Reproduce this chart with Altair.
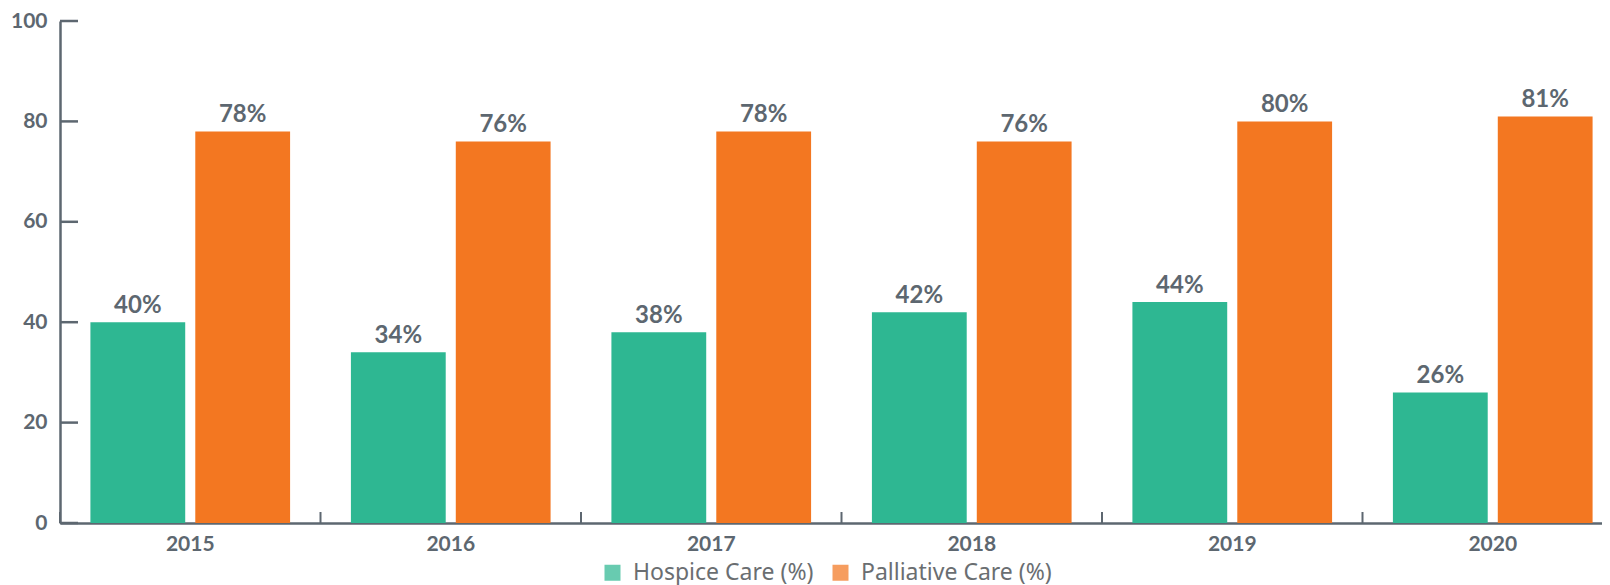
import altair as alt
import pandas as pd

years = ["2015", "2016", "2017", "2018", "2019", "2020"]
series = ["Hospice Care (%)", "Palliative Care (%)"]
hospice = [40, 34, 38, 42, 44, 26]
palliative = [78, 76, 78, 76, 80, 81]
y_ticks = [0, 20, 40, 60, 80, 100]

colors = ["#2eb792", "#f37721"]
ink = "#5d6770"
font = "Lato"

rows = []
for i, yr in enumerate(years):
    rows.append({"year": yr, "series": series[0], "value": hospice[i]})
    rows.append({"year": yr, "series": series[1], "value": palliative[i]})
df = pd.DataFrame(rows)
df["label"] = df["value"].astype(str) + "%"

tick_df = pd.DataFrame({"v": y_ticks})
year_df = pd.DataFrame({"year": years})

x_scale = alt.Scale(domain=years, range=[0, 1563], paddingInner=0, paddingOuter=0)
y_scale = alt.Scale(domain=[0, 100], nice=False)

x_enc = alt.X(
    "year:N",
    scale=x_scale,
    sort=years,
    axis=alt.Axis(
        title=None,
        labelAngle=0,
        ticks=False,
        tickSize=0,
        labelPadding=10,
        labelFont=font,
        labelFontSize=21,
        labelFontWeight="bold",
        labelColor=ink,
        domainColor=ink,
        domainWidth=2.5,
        grid=False,
    ),
)
y_enc = alt.Y(
    "value:Q",
    scale=y_scale,
    axis=alt.Axis(
        title=None,
        values=y_ticks,
        ticks=False,
        tickSize=0,
        labelPadding=13,
        labelFont=font,
        labelFontSize=21,
        labelFontWeight="bold",
        labelColor=ink,
        domainColor=ink,
        domainWidth=2.5,
        grid=False,
    ),
)
xoff = alt.XOffset("series:N", sort=series,
                   scale=alt.Scale(paddingInner=0.096, paddingOuter=0.29))

base = alt.Chart(df)

bars = base.mark_bar().encode(
    x=x_enc,
    xOffset=xoff,
    y=y_enc,
    color=alt.Color(
        "series:N",
        sort=series,
        scale=alt.Scale(domain=series, range=colors),
        legend=alt.Legend(
            title=None,
            orient="none",
            legendX=541,
            legendY=540,
            direction="horizontal",
            symbolType="square",
            symbolSize=256,
            symbolOpacity=0.72,
            symbolStrokeWidth=0,
            labelFont="Noto Sans",
            labelFontSize=23,
            labelLimit=0,
            labelColor="#6a6e71",
            labelOffset=9,
            columnPadding=15,
        ),
    ),
)

labels = base.mark_text(
    baseline="alphabetic", dy=-9, font=font, fontSize=24, fontWeight="bold", color=ink
).encode(
    x=alt.X("year:N", scale=x_scale, sort=years),
    xOffset=xoff,
    y=alt.Y("value:Q", scale=y_scale),
    text="label:N",
)

y_tick_rules = alt.Chart(tick_df).mark_rule(color=ink, strokeWidth=2.5).encode(
    y=alt.Y("v:Q", scale=y_scale),
    x=alt.value(0),
    x2=alt.value(18),
)

x_tick_rules = alt.Chart(year_df).mark_rule(color=ink, strokeWidth=2).encode(
    x=alt.X("year:N", scale=x_scale, sort=years, bandPosition=0),
    y=alt.value(491),
    y2=alt.value(502),
)

chart = alt.layer(bars, labels, y_tick_rules, x_tick_rules).properties(
    width=1542,
    height=502,
    autosize=alt.AutoSizeParams(type="none"),
    padding={"left": 52, "top": 13, "right": 0, "bottom": 62},
).configure_view(stroke=None)

chart.save("out.html", embed_options={"renderer": "svg", "actions": False})
